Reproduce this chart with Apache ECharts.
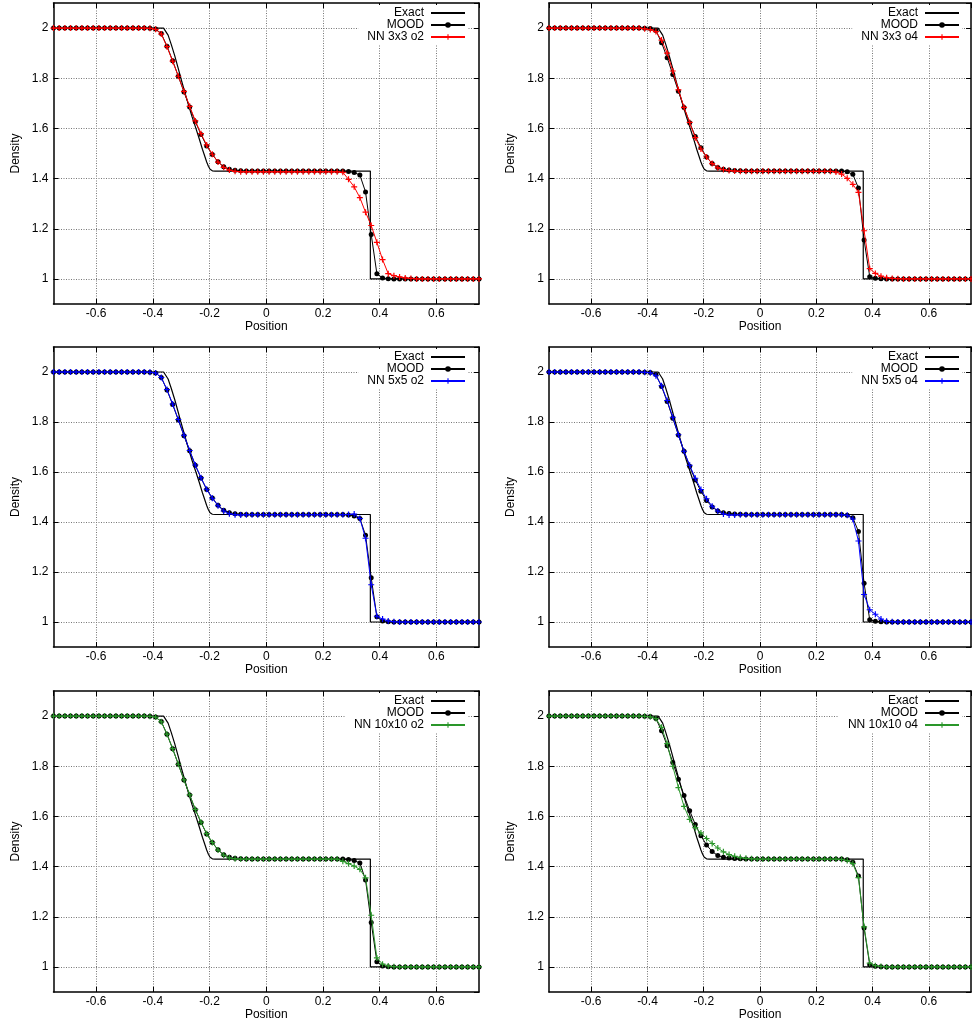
<!DOCTYPE html>
<html>
<head>
<meta charset="utf-8">
<script src="https://cdn.jsdelivr.net/npm/echarts@6/dist/echarts.min.js"></script>
<style>html,body{margin:0;padding:0;background:#fff}#c{width:972px;height:1025px}</style>
</head>
<body>
<div id="c"></div>
<script>
// ---- data ----
const positions = [-0.75,-0.73,-0.71,-0.69,-0.67,-0.65,-0.63,-0.61,-0.59,-0.57,-0.55,-0.53,-0.51,-0.49,-0.47,-0.45,-0.43,-0.41,-0.39,-0.37,-0.35,-0.33,-0.31,-0.29,-0.27,-0.25,-0.23,-0.21,-0.19,-0.17,-0.15,-0.13,-0.11,-0.09,-0.07,-0.05,-0.03,-0.01,0.01,0.03,0.05,0.07,0.09,0.11,0.13,0.15,0.17,0.19,0.21,0.23,0.25,0.27,0.29,0.31,0.33,0.35,0.37,0.39,0.41,0.43,0.45,0.47,0.49,0.51,0.53,0.55,0.57,0.59,0.61,0.63,0.65,0.67,0.69,0.71,0.73,0.75];

const exactX = [-0.75,-0.362,-0.355,-0.346,-0.335,-0.323,-0.312,-0.301,-0.288,-0.275,-0.262,-0.248,-0.236,-0.225,-0.217,-0.21,-0.204,-0.198,-0.19,-0.18,0.367,0.367,0.75];
const exactY = [2,2,1.995,1.972,1.935,1.891,1.846,1.80,1.748,1.697,1.648,1.60,1.558,1.517,1.49,1.466,1.449,1.437,1.431,1.43,1.43,1.0,1.0];

const moodO2 = [2,2,2,2,2,2,2,2,2,2,2,2,2,2,2,2,2,
 1.999,1.996,1.978,1.928,1.870,1.808,1.745,1.685,1.627,1.576,1.530,1.496,1.467,1.447,1.437,1.433,1.431,
 1.43,1.43,1.43,1.43,1.43,1.43,1.43,1.43,1.43,1.43,1.43,1.43,1.43,1.43,1.43,1.43,1.43,1.43,
 1.428,1.424,1.414,1.347,1.177,1.021,1.004,1.001,
 1,1,1,1,1,1,1,1,1,1,1,1,1,1,1,1];

const moodO4 = [2,2,2,2,2,2,2,2,2,2,2,2,2,2,2,2,2,
 1.999,1.998,1.990,1.942,1.882,1.815,1.748,1.683,1.623,1.568,1.523,1.486,1.460,1.444,1.437,1.434,1.432,
 1.431,
 1.43,1.43,1.43,1.43,1.43,1.43,1.43,1.43,1.43,1.43,1.43,1.43,1.43,1.43,1.43,1.43,1.43,
 1.430,1.427,1.417,1.362,1.155,1.009,1.003,1.001,
 1,1,1,1,1,1,1,1,1,1,1,1,1,1,1,1];

const nn3o2 = [2,2,2,2,2,2,2,2,2,2,2,2,2,2,2,2,2,
 1.999,1.995,1.976,1.926,1.868,1.808,1.748,1.688,1.630,1.579,1.534,1.497,1.466,1.445,1.434,1.429,1.427,
 1.427,1.427,1.427,1.427,1.427,1.427,1.427,1.427,1.427,1.427,1.427,1.427,1.427,1.427,1.427,1.427,1.427,
 1.425,1.397,1.367,1.324,1.266,1.213,1.146,1.077,1.021,1.013,1.008,1.004,1.002,
 1,1,1,1,1,1,1,1,1,1,1,1];

const nn3o4 = [2,2,2,2,2,2,2,2,2,2,2,2,2,2,2,2,2,
 1.997,1.994,1.986,1.952,1.900,1.829,1.754,1.684,1.624,1.563,1.518,1.486,1.460,1.443,1.436,1.432,1.430,
 1.429,1.429,1.429,1.429,1.429,1.429,1.429,1.429,1.429,1.429,1.429,1.429,1.429,1.429,1.429,1.429,1.429,
 1.426,1.418,1.401,1.377,1.345,1.192,1.041,1.022,1.011,1.005,1.002,1.001,
 1,1,1,1,1,1,1,1,1,1,1,1,1];

const nn5o2 = [2,2,2,2,2,2,2,2,2,2,2,2,2,2,2,2,2,
 1.999,1.996,1.978,1.930,1.872,1.810,1.747,1.686,1.628,1.577,1.531,1.495,1.465,1.444,1.433,1.429,1.428,
 1.429,1.429,1.429,1.429,1.429,1.429,1.429,1.429,1.429,1.429,1.429,1.429,1.429,1.429,1.429,1.429,1.429,1.429,
 1.430,1.432,1.414,1.335,1.149,1.023,1.012,1.004,1.001,
 1,1,1,1,1,1,1,1,1,1,1,1,1,1,1];

const nn5o4 = [2,2,2,2,2,2,2,2,2,2,2,2,2,2,2,2,2,
 1.999,1.997,1.985,1.945,1.886,1.819,1.749,1.683,1.627,1.575,1.530,1.493,1.463,1.444,1.432,1.428,1.428,
 1.429,1.429,1.429,1.429,1.429,1.429,1.429,1.429,1.429,1.429,1.429,1.429,1.429,1.429,1.429,1.429,1.429,1.429,
 1.429,1.427,1.412,1.324,1.110,1.049,1.031,1.012,1.003,1.001,
 1,1,1,1,1,1,1,1,1,1,1,1,1,1];

const nn10o2 = [2,2,2,2,2,2,2,2,2,2,2,2,2,2,2,2,2,
 1.999,1.996,1.977,1.928,1.870,1.808,1.746,1.686,1.628,1.577,1.531,1.496,1.466,1.446,1.435,1.431,1.430,
 1.43,1.43,1.43,1.43,1.43,1.43,1.43,1.43,1.43,1.43,1.43,1.43,1.43,1.43,1.43,1.43,1.43,
 1.421,1.412,1.402,1.389,1.355,1.206,1.036,1.011,1.004,1.001,
 1,1,1,1,1,1,1,1,1,1,1,1,1,1,1];

const nn10o4 = [2,2,2,2,2,2,2,2,2,2,2,2,2,2,2,2,2,
 1.999,1.997,1.990,1.955,1.890,1.800,1.715,1.640,1.588,1.555,1.534,1.512,1.492,1.474,1.459,1.448,1.441,1.436,1.433,1.431,
 1.43,1.43,1.43,1.43,1.43,1.43,1.43,1.43,1.43,1.43,1.43,1.43,1.43,1.43,1.43,
 1.429,1.424,1.412,1.356,1.160,1.015,1.005,1.002,
 1,1,1,1,1,1,1,1,1,1,1,1,1,1,1,1];

const nnNames = ['NN 3x3 o2','NN 3x3 o4','NN 5x5 o2','NN 5x5 o4','NN 10x10 o2','NN 10x10 o4'];
const nnValues = [nn3o2, nn3o4, nn5o2, nn5o4, nn10o2, nn10o4];
const moodValues = [moodO2, moodO4, moodO2, moodO4, moodO2, moodO4];
const xLabelName = 'Position';
const yLabelName = 'Density';

[moodO2, moodO4].concat(nnValues).forEach((a, i) => {
  if (a.length !== positions.length) throw new Error('array ' + i + ' has length ' + a.length);
});

// ---- styles / layout ----
const nnColors = ['#ff0000','#ff0000','#0000ff','#0000ff','#2a962a','#2a962a'];
const FONT = "'Liberation Sans', Arial, Helvetica, sans-serif";
const colLeft = [53.5, 549];
const colWidth = [425.5, 422];
const rowTop = [3, 347, 691];
const rowH = [301, 300, 301];
const legendRight = [504, 10];
const plusPath = 'path://M0,4H10V6H0Z M4,0H6V10H4Z';

const zip = (xs, ys) => xs.map((x, i) => [x, ys[i]]);

const grids = [], xAxes = [], yAxes = [], series = [], legends = [];
const gridLine = {show: true, showMinLine: false, showMaxLine: false, lineStyle: {color: '#777', type: [1, 1.5], width: 1}};
const axLine = {show: true, onZero: false, lineStyle: {color: '#000', width: 1.5}};
const axTick = {show: true, inside: true, length: 5, lineStyle: {color: '#000', width: 1}};
const txt = {color: '#000', fontSize: 12, fontFamily: FONT};

for (let i = 0; i < 6; i++) {
  const col = i % 2, row = Math.floor(i / 2);
  grids.push({left: colLeft[col], width: colWidth[col], top: rowTop[row], height: rowH[row], containLabel: false});
  const xBase = {gridIndex: i, type: 'value', min: -0.75, max: 0.75, splitNumber: 7, axisLine: axLine, axisTick: axTick};
  xAxes.push(Object.assign({}, xBase, {
    position: 'bottom',
    axisLabel: Object.assign({showMinLabel: false, showMaxLabel: false, margin: 4}, txt),
    splitLine: gridLine,
    name: xLabelName, nameLocation: 'middle', nameGap: 17, nameTextStyle: txt
  }));
  xAxes.push(Object.assign({}, xBase, {position: 'top', axisLabel: {show: false}, splitLine: {show: false}}));
  const yBase = {gridIndex: i, type: 'value', min: 0.9, max: 2.1, splitNumber: 6, axisLine: axLine, axisTick: axTick};
  yAxes.push(Object.assign({}, yBase, {
    position: 'left',
    axisLabel: Object.assign({showMinLabel: false, showMaxLabel: false, margin: 5}, txt),
    splitLine: gridLine,
    name: yLabelName, nameLocation: 'middle', nameGap: 32, nameTextStyle: txt
  }));
  yAxes.push(Object.assign({}, yBase, {position: 'right', axisLabel: {show: false}, splitLine: {show: false}}));

  const xi = 2 * i, yi = 2 * i;
  series.push({
    name: 'Exact', type: 'line', xAxisIndex: xi, yAxisIndex: yi,
    data: zip(exactX, exactY), symbol: 'none', z: 2,
    lineStyle: {color: '#000', width: 1.2},
    itemStyle: {color: 'rgba(0,0,0,0)', borderWidth: 0, borderColor: 'rgba(0,0,0,0)'}
  });
  series.push({
    name: 'MOOD', type: 'line', xAxisIndex: xi, yAxisIndex: yi,
    data: zip(positions, moodValues[i]), symbol: 'circle', symbolSize: 5, z: 3,
    lineStyle: {color: '#000', width: 1}, itemStyle: {color: '#000'}
  });
  series.push({
    name: nnNames[i], type: 'line', xAxisIndex: xi, yAxisIndex: yi,
    data: zip(positions, nnValues[i]), symbol: plusPath, symbolSize: 6, z: 4,
    lineStyle: {color: nnColors[i], width: 1}, itemStyle: {color: nnColors[i]}
  });

  legends.push({
    data: ['Exact', 'MOOD', nnNames[i]],
    orient: 'vertical', align: 'right',
    right: legendRight[col], top: rowTop[row] + 2,
    itemWidth: 34, itemHeight: 7, itemGap: 0,
    padding: [2, 2, 2, 9],
    backgroundColor: '#fff',
    selectedMode: false,
    textStyle: Object.assign({lineHeight: 12, padding: [0, 2, 0, 0]}, txt)
  });
}

const chart = echarts.init(document.getElementById('c'), null, {renderer: 'canvas'});
chart.setOption({
  animation: false,
  backgroundColor: '#fff',
  grid: grids, xAxis: xAxes, yAxis: yAxes, series: series, legend: legends
});
</script>
</body>
</html>
